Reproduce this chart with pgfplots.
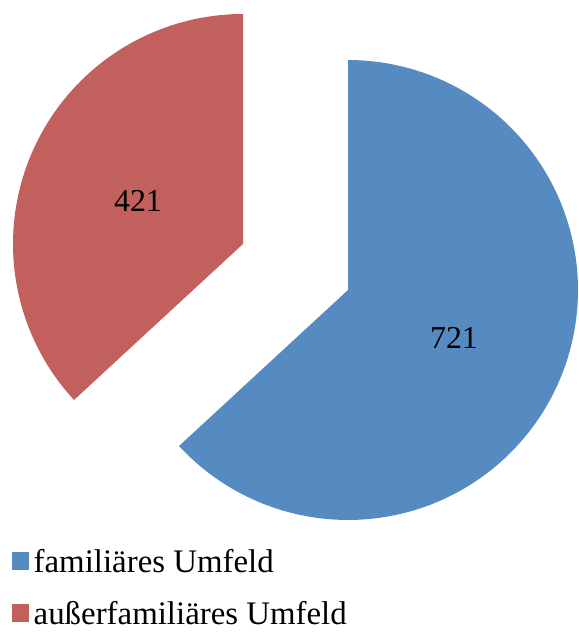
\documentclass[border=0pt]{standalone}
\usepackage{pgfplots}
\pgfplotsset{compat=1.18}
\usepackage{fontspec}
\setmainfont{Liberation Serif}
\definecolor{pieblue}{RGB}{86,139,194}
\definecolor{piered}{RGB}{193,96,92}
% data
\def\valA{721}% familiäres Umfeld
\def\valB{421}% außerfamiliäres Umfeld
\begin{document}
\begin{tikzpicture}
\pgfmathsetmacro{\tot}{\valA+\valB}
\pgfmathsetmacro{\angA}{\valA/\tot*360}
\pgfmathsetmacro{\endA}{90-\angA}
\pgfmathsetmacro{\endB}{450-\angA}
\begin{axis}[
  width=579bp, height=634bp, scale only axis,
  xmin=0, xmax=579, ymin=-634, ymax=0,
  hide axis, clip=false,
  legend style={at={(axis cs:12,-548)}, anchor=north west, draw=none, fill=none,
    inner sep=0bp, font=\fontsize{33}{36}\selectfont, row sep=26bp,
    nodes={inner xsep=4.5bp, inner ysep=1bp, anchor=west}},
  legend cell align=left,
  legend image code/.code={\fill[#1] (0bp,-8bp) rectangle (17bp,10bp);},
]
\path[draw=none] (rel axis cs:0,0) rectangle (rel axis cs:1,1);
% blue slice (familiäres Umfeld), centre (348,-290), r=230
\addplot[fill=pieblue, draw=none, domain=\endA:90, samples=120]
  ({348+230*cos(x)},{-290+230*sin(x)}) -- (axis cs:348,-290) -- cycle;
\addlegendentry{familiäres Umfeld}
% red slice (außerfamiliäres Umfeld), centre (243,-244), r=230
\addplot[fill=piered, draw=none, domain=90:\endB, samples=90]
  ({243+230*cos(x)},{-244+230*sin(x)}) -- (axis cs:243,-244) -- cycle;
\addlegendentry{außerfamiliäres Umfeld}
\node[font=\fontsize{32}{36}\selectfont] at (axis cs:454,-338) {721};
\node[font=\fontsize{32}{36}\selectfont] at (axis cs:138,-201) {421};
\end{axis}
\end{tikzpicture}
\end{document}
